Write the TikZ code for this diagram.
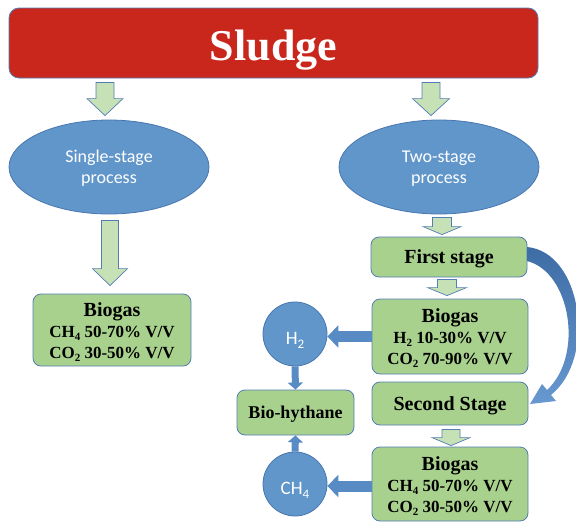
\documentclass[tikz,border=0pt]{standalone}
\usepackage{fontspec}
\setmainfont{Liberation Serif}
\newfontfamily\calfont{Carlito}
\usetikzlibrary{shapes.geometric,arrows.meta,calc}

\definecolor{sludgered}{RGB}{201,38,28}
\definecolor{edgeblue}{RGB}{84,125,180}
\definecolor{ovalblue}{RGB}{97,150,202}
\definecolor{ovaledge}{RGB}{72,118,176}
\definecolor{boxgreen}{RGB}{169,209,142}
\definecolor{arrowgreen}{RGB}{199,225,182}
\definecolor{flowblue}{RGB}{88,138,196}
\definecolor{bendtop}{RGB}{62,108,165}
\definecolor{bendbottom}{RGB}{104,152,208}

% chemical subscript in the running font
\newcommand\chsub[1]{\raisebox{-3pt}{\fontsize{11}{11}\selectfont #1}}
\newcommand\gassub[1]{\raisebox{-3.5pt}{\fontsize{13}{13}\selectfont #1}}
\newcommand\headline[1]{{\fontsize{20}{21}\selectfont #1}}

% wide hollow down arrow: top point, tip point, shaft half width, head half width, head length
\newcommand\downblock[5]{%
  \draw[greenarrow] let \p1=#1, \p2=#2 in
    (\x1-#3,\y1) -- (\x1+#3,\y1) -- (\x1+#3,\y2+#5) -- (\x1+#4,\y2+#5)
    -- (\x1,\y2) -- (\x1-#4,\y2+#5) -- (\x1-#3,\y2+#5) -- cycle;}

\tikzset{
  greenbox/.style={draw=edgeblue, line width=0.8pt, fill=boxgreen, rounded corners=8pt,
    inner sep=0pt, align=center, font=\bfseries\fontsize{17}{21}\selectfont,
    text depth=0pt, minimum width=156pt},
  threeline/.style={text height=56pt},
  oval/.style={ellipse, draw=ovaledge, line width=0.8pt, fill=ovalblue,
    minimum width=200pt, minimum height=94pt, inner sep=0pt, align=center,
    text=white, font=\calfont\fontsize{18}{21}\selectfont, text height=33pt, text depth=0pt},
  gas/.style={circle, draw=ovaledge, line width=0.8pt, fill=ovalblue, minimum size=64pt,
    inner sep=0pt, text=white, font=\calfont\fontsize{19}{20}\selectfont,
    text height=21pt, text depth=0pt},
  greenarrow/.style={draw=edgeblue, line width=0.7pt, fill=arrowgreen, line join=miter},
  flow/.style={draw=flowblue, line width=11pt, -{Triangle[width=22pt,length=11pt]}},
  thinflow/.style={draw=flowblue, line width=7pt, -{Triangle[width=15pt,length=7pt]}},
}

\begin{document}
\begin{tikzpicture}[x=1pt,y=-1pt]
\useasboundingbox (0,0) rectangle (576,522);

% top banner
\node[draw=edgeblue, line width=0.8pt, fill=sludgered, rounded corners=10pt,
      minimum width=529pt, minimum height=70pt, inner sep=0pt, text=white,
      font=\bfseries\fontsize{44}{48}\selectfont, text height=34pt, text depth=0pt]
      (sludge) at (273.5,43) {Sludge};

% the two processes
\node[oval] (ell1) at (109,167) {Single-stage\\process};
\node[oval] (ell2) at (439,167) {Two-stage\\process};

% single-stage branch
\node[greenbox, threeline, minimum width=158pt, minimum height=72pt]
  (bio1) at (112,330)
  {\headline{Biogas}\\CH\chsub{4} 50-70\% V/V\\CO\chsub{2} 30-50\% V/V};

% two-stage branch
\node[greenbox, minimum height=40pt, text height=13.5pt] (first) at (449,257)
  {\headline{First stage}};
\node[greenbox, threeline, minimum height=75pt] (bio2) at (450,336.5)
  {\headline{Biogas}\\H\chsub{2} 10-30\% V/V\\CO\chsub{2} 70-90\% V/V};
\node[greenbox, minimum height=43pt, text height=13.5pt] (second) at (450,403.5)
  {\headline{Second Stage}};
\node[greenbox, threeline, minimum height=74pt] (bio3) at (450,484)
  {\headline{Biogas}\\CH\chsub{4} 50-70\% V/V\\CO\chsub{2} 30-50\% V/V};

% recovered gases
\node[gas] (h2) at (295,334) {H\gassub{2}};
\node[gas] (ch4) at (295,484) {CH\gassub{4}};
\node[greenbox, minimum width=117pt, minimum height=45pt, text height=12pt,
      font=\bfseries\fontsize{18}{21}\selectfont] (bioh) at (295.5,412.5) {Bio-hythane};

% hollow flow arrows
\downblock{($(sludge.south -| ell1.north)+(-4,4)$)}{($(ell1.north)+(0,-4)$)}{9pt}{18pt}{17pt}
\downblock{($(sludge.south -| ell2.north)+(-8,4)$)}{($(ell2.north)+(0,-4)$)}{9pt}{18.5pt}{17pt}
\downblock{($(ell1.south)+(1,6)$)}{($(bio1.north)+(0,-8)$)}{8.5pt}{17.5pt}{17pt}
\downblock{($(ell2.south)+(3,3)$)}{($(first.north)+(0,-2)$)}{9.5pt}{19pt}{8pt}
\downblock{($(first.south)+(-2,2)$)}{($(bio2.north)+(0,-3)$)}{9.5pt}{19.5pt}{8pt}
\downblock{($(second.south)+(1,4)$)}{($(bio3.north)+(0,-1)$)}{9pt}{19pt}{8pt}

% gas separation arrows
\draw[flow] (bio2.west) -- (bio2.west -| h2.east);
\draw[flow] ([yshift=-2pt]bio3.west) -- ([yshift=-2pt]bio3.west -| ch4.east);
\draw[thinflow] (h2.south) -- (bioh.north);
\draw[thinflow] (ch4.north) -- (bioh.south);

% curved transfer from first to second stage
\shade[top color=bendtop, bottom color=bendbottom]
  (527,247) .. controls (582,252) and (597,358) .. (551,395)
  -- (556,401) -- (530,404) -- (542,384) -- (547,390)
  .. controls (584,356) and (571,272) .. (527,261) -- cycle;
\end{tikzpicture}
\end{document}
